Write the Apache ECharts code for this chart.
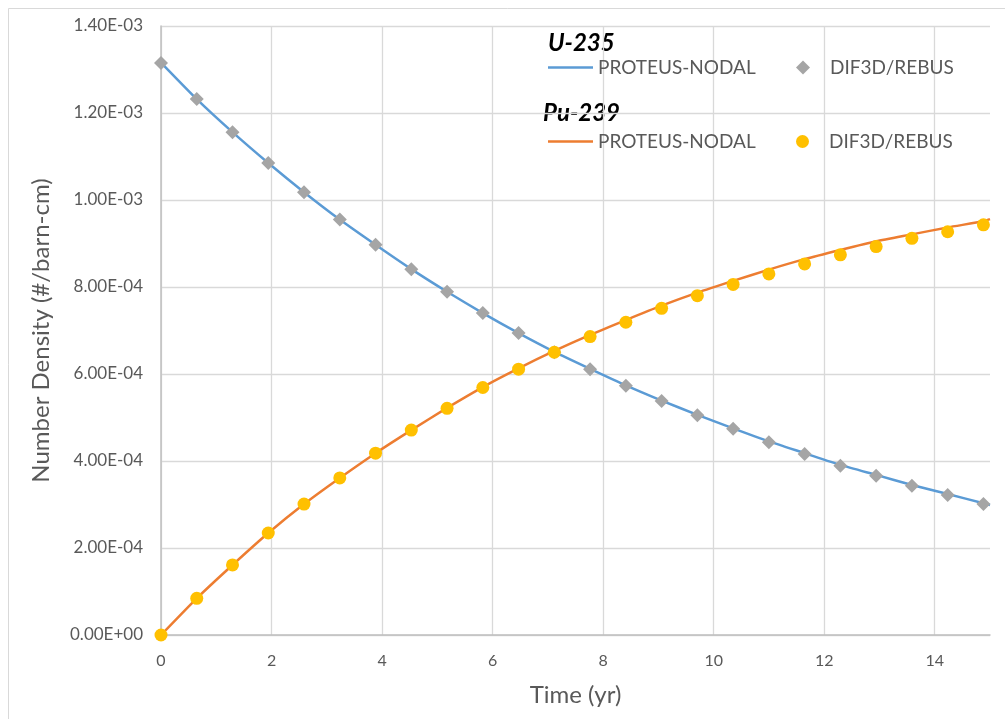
<!DOCTYPE html>
<html>
<head>
<meta charset="utf-8">
<script src="https://cdn.jsdelivr.net/npm/echarts@6/dist/echarts.min.js"></script>
<style>
html,body{margin:0;padding:0;background:#fff;}
#chart{width:1005px;height:719px;}
</style>
</head>
<body>
<div id="chart"></div>
<script>
// Time points (yr) for the DIF3D/REBUS markers
const times = [0, 0.647, 1.294, 1.941, 2.588, 3.235, 3.882, 4.529, 5.176, 5.823, 6.47, 7.117,
  7.764, 8.411, 9.058, 9.705, 10.352, 10.999, 11.646, 12.293, 12.94, 13.587, 14.234, 14.881];
// Time points (yr) for the PROTEUS-NODAL curves
const lineTimes = [0, 0.647, 1.294, 1.941, 2.588, 3.235, 3.882, 4.529, 5.176, 5.823, 6.47, 7.117,
  7.764, 8.411, 9.058, 9.705, 10.352, 10.999, 11.646, 12.293, 12.94, 13.587, 14.234, 14.881, 15];

// Number densities (#/barn-cm)
const u235Dif = [1.315e-3, 1.232e-3, 1.156e-3, 1.085e-3, 1.018e-3, 0.955e-3, 0.897e-3, 0.841e-3,
  0.789e-3, 0.740e-3, 0.694e-3, 0.650e-3, 0.611e-3, 0.573e-3, 0.538e-3, 0.505e-3, 0.474e-3,
  0.443e-3, 0.416e-3, 0.389e-3, 0.366e-3, 0.343e-3, 0.322e-3, 0.301e-3];
const pu239Dif = [0, 0.0844e-3, 0.161e-3, 0.2345e-3, 0.301e-3, 0.361e-3, 0.418e-3, 0.471e-3,
  0.521e-3, 0.569e-3, 0.611e-3, 0.650e-3, 0.686e-3, 0.719e-3, 0.751e-3, 0.780e-3, 0.806e-3,
  0.830e-3, 0.853e-3, 0.874e-3, 0.893e-3, 0.912e-3, 0.927e-3, 0.943e-3];
const u235Proteus = [1.316e-3, 1.232e-3, 1.156e-3, 1.085e-3, 1.018e-3, 0.955e-3, 0.897e-3, 0.841e-3,
  0.789e-3, 0.740e-3, 0.694e-3, 0.651e-3, 0.612e-3, 0.574e-3, 0.539e-3, 0.506e-3, 0.475e-3,
  0.445e-3, 0.418e-3, 0.391e-3, 0.368e-3, 0.345e-3, 0.324e-3, 0.303e-3, 0.299e-3];
const pu239Proteus = [0, 0.0844e-3, 0.161e-3, 0.2345e-3, 0.301e-3, 0.361e-3, 0.418e-3, 0.471e-3,
  0.522e-3, 0.570e-3, 0.613e-3, 0.653e-3, 0.690e-3, 0.724e-3, 0.757e-3, 0.787e-3, 0.814e-3,
  0.840e-3, 0.864e-3, 0.885e-3, 0.905e-3, 0.921e-3, 0.937e-3, 0.951e-3, 0.956e-3];

// Axis tick settings
const xTicks = {min: 0, max: 15, interval: 2};
const yTicks = {min: 0, max: 1.4e-3, interval: 2e-4};

function pair(xs, ys) { return xs.map((x, i) => [x, ys[i]]); }
function sci(v) {
  if (v === 0) return '0.00E+00';
  let e = Math.floor(Math.log10(Math.abs(v)) + 1e-9);
  let m = v / Math.pow(10, e);
  if (Math.abs(m) >= 9.995) { m /= 10; e += 1; }
  const sign = e < 0 ? '-' : '+';
  const ae = Math.abs(e);
  return m.toFixed(2) + 'E' + sign + (ae < 10 ? '0' + ae : '' + ae);
}

const FONT = 'Lato';
const TXT = '#595959';
const chart = echarts.init(document.getElementById('chart'), null, {renderer: 'canvas'});

const legendBase = {
  orient: 'horizontal', padding: 0, itemGap: 0, selectedMode: false,
  textStyle: {color: TXT, fontFamily: FONT, fontSize: 19},
  formatter: n => n.split('|')[1]
};
const markerText = {color: TXT, fontFamily: FONT, fontSize: 19, padding: [0, 0, 0, 15]};

chart.setOption({
  backgroundColor: '#fff',
  animation: false,
  textStyle: {fontFamily: FONT},
  grid: {left: 161, top: 26, right: 15, bottom: 84, containLabel: false},
  graphic: [
    {type: 'rect', silent: true, z: -10, shape: {x: 8.5, y: 8.5, width: 1100, height: 800},
      style: {fill: 'none', stroke: '#d9d9d9', lineWidth: 1}},
    {type: 'text', left: 548, top: 31, style: {text: 'U-235', font: 'italic bold 24px Lato', fill: '#000'}},
    {type: 'text', left: 543, top: 101, style: {text: 'Pu-239', font: 'italic bold 24px Lato', fill: '#000'}}
  ],
  legend: [
    Object.assign({}, legendBase, {left: 548, top: 58, itemWidth: 45, itemHeight: 2.5,
      data: [{name: 'U-235|PROTEUS-NODAL', icon: 'rect'}]}),
    Object.assign({}, legendBase, {left: 796, top: 58, itemWidth: 14, itemHeight: 14,
      textStyle: markerText, data: [{name: 'U-235|DIF3D/REBUS', icon: 'diamond'}]}),
    Object.assign({}, legendBase, {left: 548, top: 132, itemWidth: 45, itemHeight: 2.5,
      data: [{name: 'Pu-239|PROTEUS-NODAL', icon: 'rect'}]}),
    Object.assign({}, legendBase, {left: 796, top: 132, itemWidth: 13, itemHeight: 13,
      textStyle: markerText, data: [{name: 'Pu-239|DIF3D/REBUS', icon: 'circle'}]})
  ],
  xAxis: {
    type: 'value', min: xTicks.min, max: xTicks.max, interval: xTicks.interval,
    name: 'Time (yr)', nameLocation: 'middle', nameGap: 48,
    nameTextStyle: {color: TXT, fontFamily: FONT, fontSize: 24},
    axisLine: {show: true, onZero: false, lineStyle: {color: '#bfbfbf', width: 1.5}},
    axisTick: {show: false},
    axisLabel: {color: TXT, fontFamily: FONT, fontSize: 16, margin: 18, showMaxLabel: false},
    splitLine: {show: true, showMaxLine: false, lineStyle: {color: '#d9d9d9', width: 1.3}}
  },
  yAxis: {
    type: 'value', min: yTicks.min, max: yTicks.max, interval: yTicks.interval,
    name: 'Number Density (#/barn-cm)', nameLocation: 'middle', nameGap: 108,
    nameTextStyle: {color: TXT, fontFamily: FONT, fontSize: 24},
    axisLine: {show: true, lineStyle: {color: '#bfbfbf', width: 1.5}},
    axisTick: {show: false},
    axisLabel: {color: TXT, fontFamily: FONT, fontSize: 17, margin: 18, formatter: v => sci(v)},
    splitLine: {show: true, lineStyle: {color: '#d9d9d9', width: 1.3}}
  },
  series: [
    {name: 'U-235|PROTEUS-NODAL', type: 'line', data: pair(lineTimes, u235Proteus),
      symbol: 'none', smooth: 0.2, lineStyle: {color: '#5B9BD5', width: 2.5}, itemStyle: {color: '#5B9BD5'}, z: 2},
    {name: 'U-235|DIF3D/REBUS', type: 'scatter', data: pair(times, u235Dif),
      symbol: 'diamond', symbolSize: 14, itemStyle: {color: '#A5A5A5', opacity: 1}, z: 3},
    {name: 'Pu-239|PROTEUS-NODAL', type: 'line', data: pair(lineTimes, pu239Proteus),
      symbol: 'none', smooth: 0.2, lineStyle: {color: '#ED7D31', width: 2.5}, itemStyle: {color: '#ED7D31'}, z: 4},
    {name: 'Pu-239|DIF3D/REBUS', type: 'scatter', data: pair(times, pu239Dif),
      symbol: 'circle', symbolSize: 13, itemStyle: {color: '#FFC000', opacity: 1}, z: 5}
  ]
});
</script>
</body>
</html>
